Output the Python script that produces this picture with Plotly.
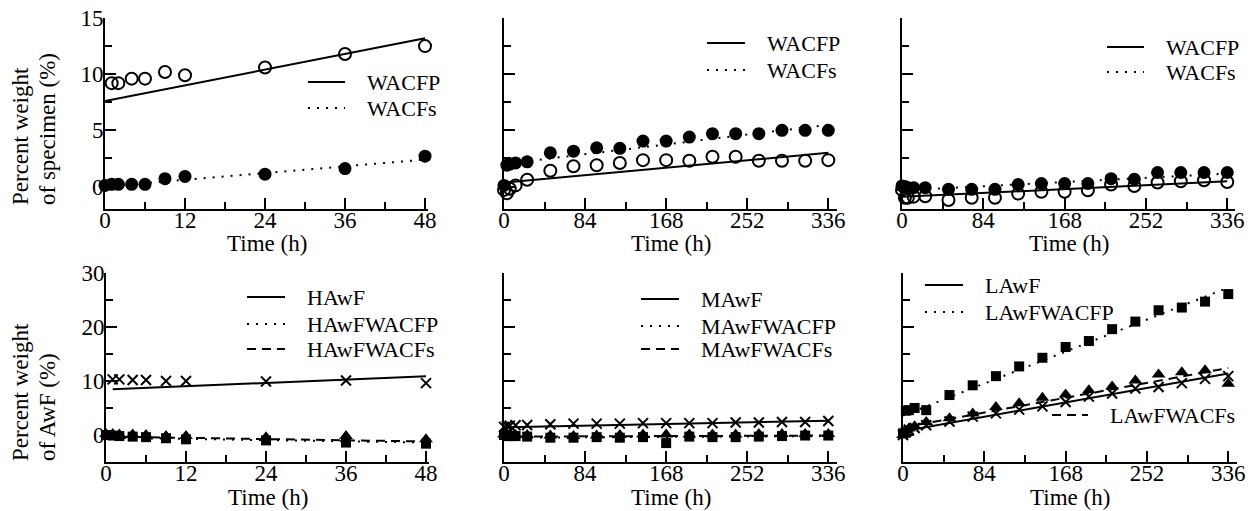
import plotly.graph_objects as go

W, H = 1255, 511
FONT = "Liberation Serif, Times New Roman, serif"

# ---------------- data ----------------
t_short = [0, 1, 2, 4, 6, 9, 12, 24, 36, 48]
t_long = [0, 3, 6, 12, 24, 48, 72, 96, 120, 144, 168, 192, 216, 240, 264, 288, 312, 336]
fit_short = [0, 48]
fit_long = [0, 336]

# (a) specimen, 48 h
a_wacfp = [None, 9.2, 9.2, 9.6, 9.6, 10.2, 9.9, 10.6, 11.8, 12.5]
a_wacfs = [0.1, 0.2, 0.2, 0.2, 0.2, 0.7, 0.9, 1.1, 1.6, 2.7]
a_fit_wacfp = [7.6, 13.2]
a_fit_wacfs = [0.0, 2.4]

# (b) specimen, 336 h
b_wacfp = [-0.3, -0.6, -0.2, 0.1, 0.6, 1.4, 1.8, 1.9, 2.1, 2.35, 2.35, 2.3, 2.65, 2.65, 2.3, 2.3, 2.3, 2.35]
b_wacfs = [0.1, 1.9, 2.0, 2.1, 2.2, 3.0, 3.15, 3.45, 3.4, 4.05, 4.05, 4.4, 4.7, 4.7, 4.7, 5.0, 5.0, 5.0]
b_fit_wacfp = [0.35, 3.0]
b_fit_wacfs = [2.0, 5.5]

# (c) specimen, 336 h
c_wacfp = [-0.3, -1.0, -1.0, -0.9, -0.86, -1.2, -1.0, -1.0, -0.63, -0.47, -0.47, -0.33, 0.18, 0.05, 0.36, 0.47, 0.56, 0.4]
c_wacfs = [0.05, 0.0, -0.1, -0.1, -0.1, -0.25, -0.25, -0.25, 0.18, 0.27, 0.27, 0.27, 0.7, 0.65, 1.25, 1.25, 1.25, 1.25]
c_fit_wacfp = [-0.92, 0.47]
c_fit_wacfs = [-0.35, 1.15]

# (d) HAwF, 48 h
d_awf = [None, 10.3, 10.3, 10.2, 10.2, 10.0, 10.0, 9.9, 10.1, 9.6]
d_wacfp = [0.0, -0.1, -0.2, -0.3, -0.4, -0.6, -0.8, -1.0, -1.4, -1.6]
d_wacfs = [0.2, 0.2, 0.1, 0.1, 0.0, -0.2, -0.2, -0.4, -0.2, -0.8]
d_fit_t_awf = [1, 48]
d_fit_awf = [8.45, 10.9]
d_fit_wacfp = [-0.5, -1.4]
d_fit_wacfs = [-0.3, -1.2]

# (e) MAwF, 336 h
e_awf = [1.5, 1.7, 1.7, 1.8, 1.85, 2.0, 2.1, 2.1, 2.1, 2.2, 2.2, 2.2, 2.2, 2.3, 2.3, 2.4, 2.4, 2.6]
e_wacfp = [0.0, -0.2, -0.2, -0.2, -0.3, -0.5, -0.5, -0.4, -0.5, -0.4, -1.5, -0.3, -0.4, -0.4, -0.3, -0.2, -0.1, -0.1]
e_wacfs = [0.1, 0.1, 0.0, 0.0, 0.0, -0.1, -0.2, -0.1, 0.0, 0.1, 0.1, 0.1, 0.1, 0.1, 0.2, 0.2, 0.2, 0.2]
e_fit_awf = [1.42, 2.65]
e_fit_wacfp = [-0.5, -0.2]
e_fit_wacfs = [-0.3, -0.1]

# (f) LAwF, 336 h
f_awf = [0.0, 0.5, 1.0, 1.3, 1.8, 2.5, 3.4, 4.0, 4.7, 5.3, 6.1, 7.1, 7.7, 8.6, 8.9, 9.6, 10.4, 10.9]
f_wacfp = [0.3, 4.5, 4.6, 5.0, 4.6, 7.4, 9.2, 10.9, 12.7, 14.3, 16.3, 17.4, 19.6, 21.0, 23.1, 23.6, 24.7, 26.1]
f_wacfs = [0.0, 0.8, 1.2, 1.6, 2.4, 3.1, 4.0, 5.2, 5.9, 6.9, 7.5, 8.3, 9.0, 10.1, 11.2, 11.6, 12.0, 9.5]
f_fit_awf = [0.7, 11.4]
f_fit_wacfp = [3.6, 27.3]
f_fit_wacfs = [1.4, 12.4]

legend_top = ["WACFP", "WACFs"]
legend_h = ["HAwF", "HAwFWACFP", "HAwFWACFs"]
legend_m = ["MAwF", "MAwFWACFP", "MAwFWACFs"]
legend_l = ["LAwF", "LAwFWACFP", "LAwFWACFs"]

# ---------------- layout geometry (pixels) ----------------
boxes = {
    1: (105, 428, 18, 209, [0, 48.45], [-2, 15]),
    2: (504, 837, 18, 209, [0, 345], [-2, 15]),
    3: (902, 1235, 18, 209, [0, 344], [-2, 15]),
    4: (106, 429, 273, 462, [0, 48.45], [-5, 30]),
    5: (504, 837, 273, 462, [0, 345], [-5, 30]),
    6: (903, 1237, 273, 462, [0, 345], [-5, 30]),
}

DOT = "2px,7px"
DASH = "9px,6px"

fig = go.Figure()
layout = dict(
    width=W, height=H, autosize=False,
    margin=dict(l=0, r=0, t=0, b=0, pad=0, autoexpand=False),
    paper_bgcolor="white", plot_bgcolor="white",
    showlegend=False,
    font=dict(family=FONT, size=23, color="black"),
)

for i, (x0, x1, yt, yb, xr, yr) in boxes.items():
    sfx = "" if i == 1 else str(i)
    long = xr[1] > 100
    top = i <= 3
    layout["xaxis" + sfx] = dict(
        domain=[x0 / W, x1 / W], range=xr, anchor="y" + sfx, automargin=False,
        showline=True, linecolor="black", linewidth=2, mirror=False,
        ticks="inside", ticklen=11, tickwidth=2, tickcolor="black",
        tickmode="linear", tick0=0, dtick=84 if long else 12,
        minor=dict(ticks="inside", ticklen=7, tickwidth=2, tickcolor="black", dtick=42 if long else 6, showgrid=False),
        showgrid=False, zeroline=False, ticklabelstandoff=-11,
        tickfont=dict(family=FONT, size=23, color="black"),
    )
    layout["yaxis" + sfx] = dict(
        domain=[1 - yb / H, 1 - yt / H], range=yr, anchor="x" + sfx, automargin=False,
        showline=True, linecolor="black", linewidth=2,
        ticks="inside", ticklen=11, tickwidth=2, tickcolor="black",
        tickmode="linear", tick0=0, dtick=5 if top else 10,
        minor=dict(ticks="inside", ticklen=7, tickwidth=2, tickcolor="black", dtick=2.5 if top else 5, showgrid=False),
        showgrid=False, zeroline=False, ticklabelstandoff=-5,
        showticklabels=(i in (1, 4)),
        tickfont=dict(family=FONT, size=23, color="black"),
    )

fig.update_layout(**layout)


def axn(i):
    return ("x" if i == 1 else "x" + str(i)), ("y" if i == 1 else "y" + str(i))


def add_line(i, xs, ys, dash):
    xa, ya = axn(i)
    fig.add_trace(go.Scatter(x=xs, y=ys, mode="lines", xaxis=xa, yaxis=ya,
                             line=dict(color="black", width=2, dash=dash), cliponaxis=False))


def add_markers(i, xs, ys, symbol, size, lw=0):
    xa, ya = axn(i)
    fig.add_trace(go.Scatter(x=xs, y=ys, mode="markers", xaxis=xa, yaxis=ya, cliponaxis=False,
                             marker=dict(symbol=symbol, size=size, color="black",
                                         line=dict(color="black", width=lw))))


# panel 1
add_line(1, fit_short, a_fit_wacfp, "solid")
add_line(1, fit_short, a_fit_wacfs, DOT)
add_markers(1, t_short, a_wacfp, "circle-open", 12, 2)
add_markers(1, t_short, a_wacfs, "circle", 13)
# panel 2
add_line(2, fit_long, b_fit_wacfp, "solid")
add_line(2, fit_long, b_fit_wacfs, DOT)
add_markers(2, t_long, b_wacfp, "circle-open", 12, 2)
add_markers(2, t_long, b_wacfs, "circle", 13)
# panel 3
add_line(3, fit_long, c_fit_wacfp, "solid")
add_line(3, fit_long, c_fit_wacfs, DOT)
add_markers(3, t_long, c_wacfp, "circle-open", 12, 2)
add_markers(3, t_long, c_wacfs, "circle", 13)
# panel 4
add_line(4, d_fit_t_awf, d_fit_awf, "solid")
add_line(4, fit_short, d_fit_wacfp, DOT)
add_line(4, fit_short, d_fit_wacfs, DASH)
add_markers(4, t_short, d_awf, "x-thin-open", 10, 2)
add_markers(4, t_short, d_wacfp, "square", 10)
add_markers(4, t_short, d_wacfs, "triangle-up", 12)
# panel 5
add_line(5, fit_long, e_fit_awf, "solid")
add_line(5, fit_long, e_fit_wacfp, DOT)
add_line(5, fit_long, e_fit_wacfs, DASH)
add_markers(5, t_long, e_awf, "x-thin-open", 10, 2)
add_markers(5, t_long, e_wacfp, "square", 10)
add_markers(5, t_long, e_wacfs, "triangle-up", 12)
# panel 6
add_line(6, fit_long, f_fit_awf, "solid")
add_line(6, fit_long, f_fit_wacfp, DOT)
add_line(6, fit_long, f_fit_wacfs, DASH)
add_markers(6, t_long, f_awf, "x-thin-open", 10, 2)
add_markers(6, t_long, f_wacfp, "square", 10)
add_markers(6, t_long, f_wacfs, "triangle-up", 12)

# ---------------- text & legends ----------------
ann = []
shapes = []


def px(x, y):
    return x / W, 1 - y / H


def text(x, y, s, xanchor="left", angle=0, yanchor="middle", size=23):
    X, Y = px(x, y)
    ann.append(dict(x=X, y=Y, xref="paper", yref="paper", text=s, showarrow=False,
                    xanchor=xanchor, yanchor=yanchor, textangle=angle,
                    font=dict(family=FONT, size=size, color="black")))


def legend_entry(x0, x1, y, dash, label):
    X0, Y = px(x0, y)
    X1, _ = px(x1, y)
    shapes.append(dict(type="line", xref="paper", yref="paper", x0=X0, x1=X1, y0=Y, y1=Y,
                       line=dict(color="black", width=2, dash=dash)))
    text(x1 + 20, y, label, size=22)


for i, (x0, x1, yt, yb, xr, yr) in boxes.items():
    ty = 243 if i <= 3 else 497
    text((x0 + x1) / 2, ty, "Time (h)", xanchor="center")

text(20, 207, "Percent weight", xanchor="center", angle=-90, yanchor="bottom")
text(47, 207, "of specimen (%)", xanchor="center", angle=-90, yanchor="bottom")
text(20, 463, "Percent weight", xanchor="center", angle=-90, yanchor="bottom")
text(47, 463, "of AwF (%)", xanchor="center", angle=-90, yanchor="bottom")

styles = ["solid", DOT, DASH]
for k, lab in enumerate(legend_top):
    legend_entry(308, 345, [82, 108][k], styles[k], lab)
    legend_entry(707, 745, [43, 70][k], styles[k], lab)
    legend_entry(1107, 1144, [47, 72][k], styles[k], lab)
for k, lab in enumerate(legend_h):
    legend_entry(247, 285, [297, 324, 349][k], styles[k], lab)
for k, lab in enumerate(legend_m):
    legend_entry(641, 679, [299, 326, 349][k], styles[k], lab)
legend_entry(925, 963, 285, styles[0], legend_l[0])
legend_entry(925, 963, 312, styles[1], legend_l[1])
legend_entry(1052, 1088, 415, styles[2], legend_l[2])

fig.update_layout(annotations=ann, shapes=shapes)
fig.write_html("out.html", config={"displayModeBar": False},
               post_script="document.body.style.margin='0';")
